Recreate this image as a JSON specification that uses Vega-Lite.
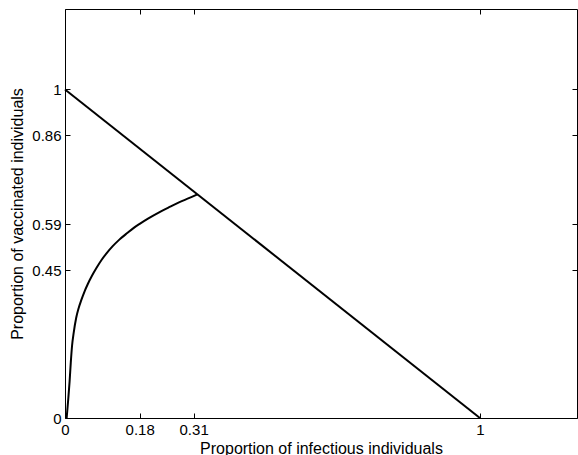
{
  "$schema": "https://vega.github.io/schema/vega-lite/v6.json",
  "width": 512,
  "height": 409,
  "autosize": "none",
  "padding": {"left": 65, "top": 9, "right": 1, "bottom": 37},
  "background": "white",
  "config": {
    "view": {"stroke": "#000", "strokeWidth": 1},
    "axis": {
      "domain": false,
      "grid": false,
      "tickColor": "#000",
      "tickSize": -5,
      "labelFont": "Liberation Sans",
      "labelFontSize": 15,
      "labelColor": "#000",
      "titleFont": "Liberation Sans",
      "titleFontSize": 16,
      "titleFontWeight": "normal",
      "titleColor": "#000"
    }
  },
  "datasets": {
    "line": [{"x": 0, "y": 1}, {"x": 1, "y": 0}],
    "curve": [
      {"x": 0.004, "y": 0}, {"x": 0.008, "y": 0.06}, {"x": 0.011, "y": 0.11},
      {"x": 0.014, "y": 0.17}, {"x": 0.017, "y": 0.22}, {"x": 0.021, "y": 0.26},
      {"x": 0.027, "y": 0.305}, {"x": 0.033, "y": 0.335}, {"x": 0.039, "y": 0.358},
      {"x": 0.047, "y": 0.385}, {"x": 0.055, "y": 0.408}, {"x": 0.065, "y": 0.433},
      {"x": 0.075, "y": 0.455}, {"x": 0.088, "y": 0.481}, {"x": 0.1, "y": 0.501},
      {"x": 0.115, "y": 0.523}, {"x": 0.131, "y": 0.543}, {"x": 0.15, "y": 0.563},
      {"x": 0.165, "y": 0.578}, {"x": 0.18, "y": 0.591}, {"x": 0.2, "y": 0.607},
      {"x": 0.228, "y": 0.627}, {"x": 0.25, "y": 0.641}, {"x": 0.276, "y": 0.657},
      {"x": 0.3, "y": 0.67}, {"x": 0.319, "y": 0.681}
    ]
  },
  "layer": [
    {
      "data": {"name": "line"},
      "mark": {"type": "line", "color": "#000", "strokeWidth": 2},
      "encoding": {
        "x": {
          "field": "x", "type": "quantitative",
          "scale": {"domain": [0, 1.234], "nice": false, "zero": false},
          "axis": {
            "orient": "bottom",
            "values": [0, 0.18, 0.31, 1],
            "labelExpr": "format(datum.value, '~g')",
            "labelPadding": 9,
            "labelFlush": false,
            "title": "Proportion of infectious individuals",
            "titlePadding": 3
          }
        },
        "y": {
          "field": "y", "type": "quantitative",
          "scale": {"domain": [0, 1.245], "nice": false, "zero": false},
          "axis": {
            "orient": "left",
            "values": [0, 0.45, 0.59, 0.86, 1],
            "labelExpr": "format(datum.value, '~g')",
            "labelPadding": 9,
            "labelFlush": false,
            "title": "Proportion of vaccinated individuals",
            "titlePadding": 6
          }
        }
      }
    },
    {
      "data": {"name": "curve"},
      "mark": {"type": "line", "color": "#000", "strokeWidth": 2, "interpolate": "monotone"},
      "encoding": {
        "x": {"field": "x", "type": "quantitative", "axis": null},
        "y": {"field": "y", "type": "quantitative", "axis": null}
      }
    },
    {
      "data": {"name": "line"},
      "mark": {"type": "line", "opacity": 0},
      "encoding": {
        "x": {
          "field": "x", "type": "quantitative",
          "axis": {"orient": "top", "values": [0, 0.18, 0.31, 1], "labels": false, "title": null}
        },
        "y": {
          "field": "y", "type": "quantitative",
          "axis": {"orient": "right", "values": [0, 0.45, 0.59, 0.86, 1], "labels": false, "title": null}
        }
      }
    }
  ],
  "resolve": {"axis": {"x": "independent", "y": "independent"}}
}
